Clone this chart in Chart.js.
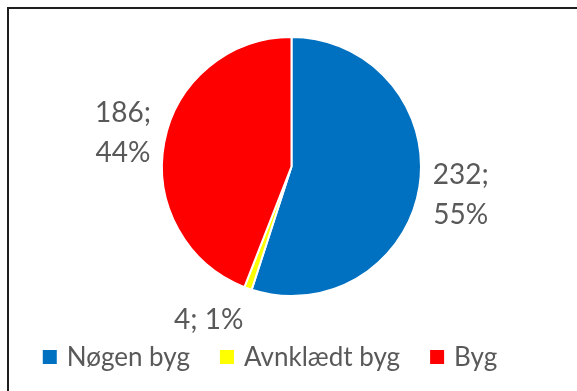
<!DOCTYPE html>
<html><head><meta charset="utf-8">
<script src="https://cdn.jsdelivr.net/npm/chart.js@4"></script>
<style>
html,body{margin:0;padding:0;background:#fff;overflow:hidden;}
#wrap{position:relative;width:577px;height:391px;}
#frame{position:absolute;left:7px;top:7px;width:620px;height:440px;border-left:2px solid #1e1e1e;border-top:2px solid #1e1e1e;box-sizing:border-box;pointer-events:none;}
canvas{position:absolute;left:0;top:0;}
</style></head><body>
<div id="wrap"><canvas id="c" width="577" height="391"></canvas><div id="frame"></div></div>
<script>
const categories = ['Nøgen byg', 'Avnklædt byg', 'Byg'];
const values = [232, 4, 186];
const colors = ['#0070C0', '#FFFF00', '#FF0000'];
const labelWrap = [true, false, true];

const FONT = 'Lato, "Open Sans", sans-serif';
const TEXT = '#595959';

const sliceLabels = {
  id: 'sliceLabels',
  afterDatasetsDraw(chart, args, opts) {
    const ctx = chart.ctx;
    const meta = chart.getDatasetMeta(0);
    const data = chart.data.datasets[0].data;
    const total = data.reduce((a, b) => a + b, 0);
    ctx.save();
    ctx.font = opts.size + 'px ' + FONT;
    ctx.fillStyle = TEXT;
    ctx.textAlign = 'center';
    ctx.textBaseline = 'middle';
    meta.data.forEach((arc, i) => {
      const p = arc.getProps(['x', 'y', 'startAngle', 'endAngle', 'outerRadius'], true);
      const mid = (p.startAngle + p.endAngle) / 2;
      const c = Math.cos(mid), s = Math.sin(mid);
      const pct = Math.round(data[i] / total * 100);
      const lines = opts.wrap[i] ? [data[i] + ';', pct + '%'] : [data[i] + '; ' + pct + '%'];
      const w = Math.max(...lines.map(l => ctx.measureText(l).width));
      const h = lines.length * opts.lineHeight;
      const d = p.outerRadius + opts.gap;
      const cx = p.x + c * d + Math.sign(c) * w / 2;
      const cy = p.y + s * d + s * h / 2;
      lines.forEach((l, k) => ctx.fillText(l, cx, cy + (k - (lines.length - 1) / 2) * opts.lineHeight));
    });
    ctx.restore();
  }
};

const customLegend = {
  id: 'customLegend',
  afterDraw(chart, args, opts) {
    const ctx = chart.ctx;
    const gen = Chart.overrides.doughnut.plugins.legend.labels.generateLabels;
    const items = gen(chart);
    ctx.save();
    ctx.font = opts.size + 'px ' + FONT;
    ctx.textBaseline = 'middle';
    ctx.textAlign = 'left';
    const widths = items.map(it => ctx.measureText(it.text).width);
    const total = widths.reduce((a, w) => a + opts.box + opts.textGap + w, 0) + opts.itemGap * (items.length - 1);
    let x = opts.centerX - total / 2;
    items.forEach((it, i) => {
      ctx.fillStyle = it.fillStyle;
      ctx.fillRect(x, opts.y - opts.box / 2, opts.box, opts.box);
      ctx.fillStyle = TEXT;
      ctx.fillText(it.text, x + opts.box + opts.textGap, opts.y + 1);
      x += opts.box + opts.textGap + widths[i] + opts.itemGap;
    });
    ctx.restore();
  }
};

new Chart(document.getElementById('c'), {
  type: 'pie',
  data: {
    labels: categories,
    datasets: [{
      data: values,
      backgroundColor: colors,
      borderColor: '#ffffff',
      borderWidth: 2,
      hoverOffset: 0
    }]
  },
  options: {
    responsive: false,
    animation: false,
    devicePixelRatio: 1,
    radius: 129.5,
    layout: { padding: { left: 6, right: 0, top: 0, bottom: 58 } },
    events: [],
    plugins: {
      legend: { display: false },
      tooltip: { enabled: false },
      sliceLabels: { size: 28, lineHeight: 40, gap: 13.5, wrap: labelWrap },
      customLegend: { size: 26, box: 14, textGap: 10, itemGap: 30, centerX: 270, y: 357 }
    }
  },
  plugins: [sliceLabels, customLegend]
});
</script>
</body></html>
